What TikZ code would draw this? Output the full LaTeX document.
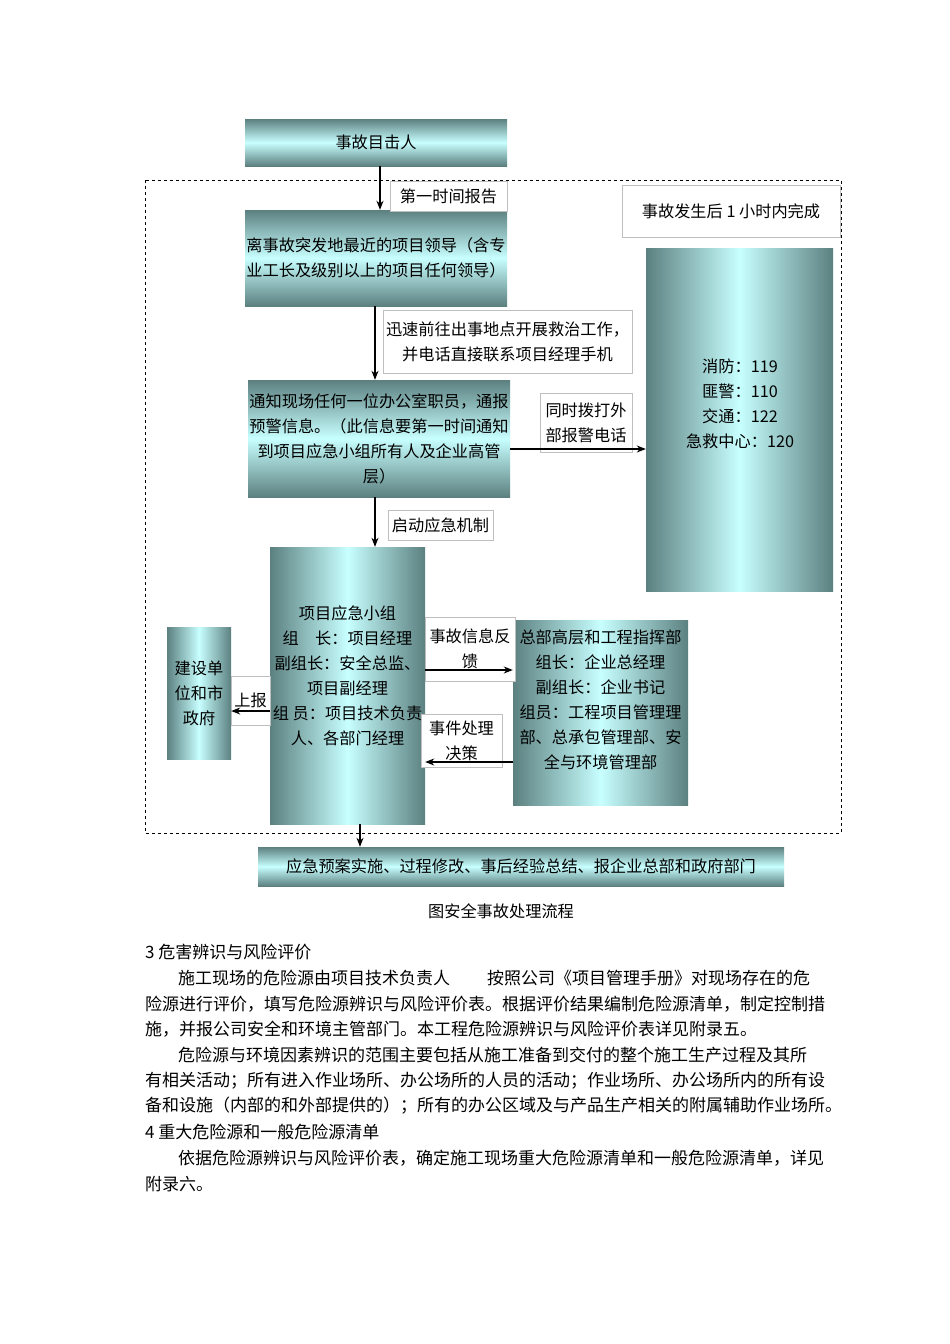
\documentclass[tikz,border=0pt]{standalone}
\usepackage{fontspec}
\setmainfont{Noto Sans CJK SC}
\usetikzlibrary{arrows.meta}
\definecolor{tdark}{RGB}{92,128,128}
\definecolor{tlight}{RGB}{200,255,255}
\tikzset{
  vbox/.style={draw=none,top color=tdark,bottom color=tdark,middle color=tlight,align=center,inner sep=0pt},
  hbox/.style={draw=none,left color=tdark,right color=tdark,middle color=tlight,align=center,inner sep=0pt},
  lbl/.style={draw=black!25,fill=white,align=center,inner sep=0pt,line width=0.5pt},
  arr/.style={-{Stealth[length=9pt,width=7pt]},line width=1.3pt},
  txt/.style={anchor=west,inner sep=0pt,font=\fontsize{17}{25}\selectfont}
}
\begin{document}
\begin{tikzpicture}[x=1pt,y=-1pt,font=\fontsize{16.2}{25}\selectfont]
\useasboundingbox[fill=white] (0,0) rectangle (950,1344);
\draw[dashed,line width=0.7pt] (145,180) rectangle (841,833);
% boxes
\node[vbox,minimum width=262,minimum height=47] (w) at (376,142.5) {事故目击人};
\node[vbox,minimum width=262,minimum height=96] (l) at (376,258) {离事故突发地最近的项目领导（含专\\业工长及级别以上的项目任何领导）};
\node[vbox,minimum width=262,minimum height=117] (n) at (379,438.5) {通知现场任何一位办公室职员，通报\\预警信息。（此信息要第一时间通知\\到项目应急小组所有人及企业高管\\层）};
\node[hbox,minimum width=187,minimum height=343] (p) at (739.5,419.5) {};
\node[align=center,inner sep=0pt] (pt) at (740,403.5) {消防：119\\匪警：110\\交通：122\\急救中心：120};
\node[hbox,minimum width=155,minimum height=277] (g) at (347.5,685.5) {};
\node[align=center,inner sep=0pt] (gt) at (347.5,676) {项目应急小组\\组\quad 长：项目经理\\副组长：安全总监、\\项目副经理\\组\ 员：项目技术负责\\人、各部门经理};
\node[hbox,minimum width=64,minimum height=132] (c) at (199,693) {建设单\\位和市\\政府};
\node[hbox,minimum width=175,minimum height=185] (h) at (600.5,712.5) {};
\node[align=center,inner sep=0pt] (ht) at (600.5,700) {总部高层和工程指挥部\\组长：企业总经理\\副组长：企业书记\\组员：工程项目管理理\\部、总承包管理部、安\\全与环境管理部};
\node[vbox,minimum width=526,minimum height=39] (b) at (521,866.5) {应急预案实施、过程修改、事后经验总结、报企业总部和政府部门};
% labels
\node[lbl,minimum width=117,minimum height=30] (l1) at (448.5,196) {第一时间报告};
\node[lbl,minimum width=249,minimum height=63] (l2) at (507.5,341.5) {迅速前往出事地点开展救治工作，\\并电话直接联系项目经理手机};
\node[lbl,minimum width=92,minimum height=59] (l3) at (586,422.5) {同时拨打外\\部报警电话};
\node[lbl,minimum width=218,minimum height=52] (l4) at (731,211) {事故发生后 1 小时内完成};
\node[lbl,minimum width=105,minimum height=30] (l5) at (440.5,525) {启动应急机制};
\node[lbl,minimum width=39,minimum height=49] (l6) at (250.5,700.5) {上报};
\node[lbl,minimum width=90,minimum height=64] (l7) at (470,649) {事故信息反\\馈};
\node[lbl,minimum width=81,minimum height=53] (l8) at (461.5,740.5) {事件处理\\决策};
% arrows
\draw[arr] (w.south -| 380,0) -- (l.north -| 380,0);
\draw[arr] (l.south -| 375,0) -- (n.north -| 375,0);
\draw[arr] (n.east |- 0,449) -- (p.west |- 0,449);
\draw[arr] (n.south -| 375,0) -- (g.north -| 375,0);
\draw[arr] (g.east |- 0,670) -- (h.west |- 0,670);
\draw[arr] (h.west |- 0,762) -- (g.east |- 0,762);
\draw[arr] (g.west |- 0,711) -- (c.east |- 0,711);
\draw[arr] (g.south -| 360,0) -- (b.north -| 360,0);
% caption and body text
\node[inner sep=0pt] (cap) at (501,911) {图安全事故处理流程};
\node[txt] (t1) at (145,952) {3 危害辨识与风险评价};
\node[txt] (t2) at (178,978) {施工现场的危险源由项目技术负责人};
\node[txt] (t2b) at (487,978) {按照公司《项目管理手册》对现场存在的危};
\node[txt] (t3) at (145,1004) {险源进行评价，填写危险源辨识与风险评价表。根据评价结果编制危险源清单，制定控制措};
\node[txt] (t4) at (145,1029) {施，并报公司安全和环境主管部门。本工程危险源辨识与风险评价表详见附录五。};
\node[txt] (t5) at (178,1055) {危险源与环境因素辨识的范围主要包括从施工准备到交付的整个施工生产过程及其所};
\node[txt] (t6) at (145,1081) {有相关活动；所有进入作业场所、办公场所的人员的活动；作业场所、办公场所内的所有设};
\node[txt] (t7) at (145,1106) {备和设施（内部的和外部提供的）；所有的办公区域及与产品生产相关的附属辅助作业场所。};
\node[txt] (t8) at (145,1132) {4 重大危险源和一般危险源清单};
\node[txt] (t9) at (178,1158) {依据危险源辨识与风险评价表，确定施工现场重大危险源清单和一般危险源清单，详见};
\node[txt] (t10) at (145,1184) {附录六。};
\end{tikzpicture}
\end{document}
